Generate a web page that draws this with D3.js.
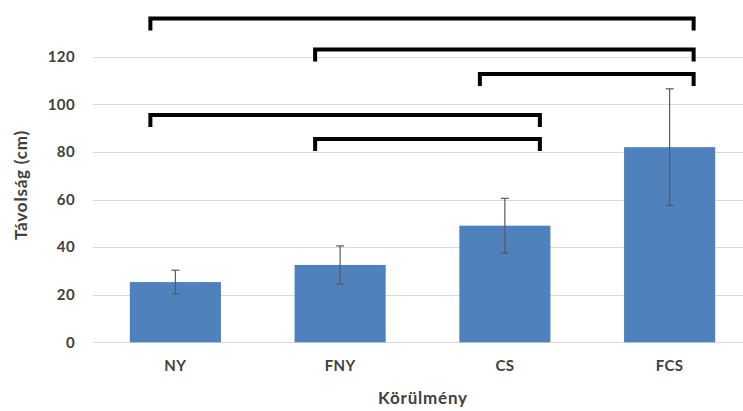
<!DOCTYPE html>
<html>
<head>
<meta charset="utf-8">
<script src="https://cdn.jsdelivr.net/npm/d3@7"></script>
<style>
  html, body { margin: 0; padding: 0; background: #fff; }
  svg { display: block; }
  text { font-family: Lato, "Open Sans", sans-serif; font-weight: bold; fill: #404040; }
</style>
</head>
<body>
<svg id="chart" width="743" height="411"></svg>
<script>
// ---- data ----
const categories = ["NY", "FNY", "CS", "FCS"];
const means = [25.3, 32.5, 49, 82];
const errors = [5, 8, 11.5, 24.5];
const yTicks = [0, 20, 40, 60, 80, 100, 120];
const bracketFrom = ["NY", "FNY", "CS", "NY", "FNY"];
const bracketTo = ["FCS", "FCS", "FCS", "CS", "CS"];
const bracketLevel = [136, 123, 112.7, 95.5, 85.4];
const xTitle = "Körülmény";
const yTitle = "Távolság (cm)";

// ---- layout ----
const svg = d3.select("#chart");
const gridLeft = 93, gridRight = 743;
const y = d3.scaleLinear().domain([0, 120]).range([342.3, 56.7]);
const x = d3.scaleBand().domain(categories).range([93, 752])
  .paddingInner(0.447).paddingOuter(0.2235);

// gridlines
svg.append("g").selectAll("line").data(yTicks).join("line")
  .attr("x1", gridLeft).attr("x2", gridRight)
  .attr("y1", d => Math.round(y(d)) + 0.5).attr("y2", d => Math.round(y(d)) + 0.5)
  .attr("stroke", "#d9d9d9").attr("stroke-width", 1);

// y tick labels
svg.append("g").selectAll("text").data(yTicks).join("text")
  .attr("x", 75).attr("y", d => y(d)).attr("dy", "0.35em")
  .attr("text-anchor", "end").attr("font-size", 15).attr("letter-spacing", 0.4).text(d => d);

// bars
const data = categories.map((c, i) => ({ c, v: means[i], e: errors[i] }));
svg.append("g").selectAll("rect").data(data).join("rect")
  .attr("x", d => x(d.c)).attr("width", x.bandwidth())
  .attr("y", d => y(d.v)).attr("height", d => y(0) - y(d.v))
  .attr("fill", "#4f81bd");

// error bars
const eb = svg.append("g").attr("stroke", "#595959").attr("stroke-width", 1.2);
data.forEach(d => {
  const cx = x(d.c) + x.bandwidth() / 2;
  eb.append("line").attr("x1", cx).attr("x2", cx).attr("y1", y(d.v + d.e)).attr("y2", y(d.v - d.e));
  eb.append("line").attr("x1", cx - 4).attr("x2", cx + 4).attr("y1", y(d.v + d.e)).attr("y2", y(d.v + d.e));
  eb.append("line").attr("x1", cx - 4).attr("x2", cx + 4).attr("y1", y(d.v - d.e)).attr("y2", y(d.v - d.e));
});

// x labels
svg.append("g").selectAll("text").data(categories).join("text")
  .attr("x", d => x(d) + x.bandwidth() / 2).attr("y", 371)
  .attr("text-anchor", "middle").attr("font-size", 15).attr("letter-spacing", 0.4).text(d => d);

// axis titles
svg.append("text").attr("x", 423).attr("y", 404).attr("text-anchor", "middle")
  .attr("font-size", 17).attr("letter-spacing", 0.8).text(xTitle);
svg.append("text").attr("transform", "translate(27,185) rotate(-90)")
  .attr("text-anchor", "middle").attr("font-size", 17).attr("letter-spacing", 0.8).text(yTitle);

// significance brackets
const center = c => x(c) + x.bandwidth() / 2;
const rightOffset = { CS: 35, FCS: 24 };
const drop = 12;
const bg = svg.append("g").attr("fill", "none").attr("stroke", "#000")
  .attr("stroke-width", 4).attr("stroke-linejoin", "miter");
bracketFrom.forEach((f, i) => {
  const x1 = center(f) - 25;
  const x2 = center(bracketTo[i]) + rightOffset[bracketTo[i]];
  const yy = y(bracketLevel[i]);
  bg.append("path").attr("d", `M${x1},${yy + drop}V${yy}H${x2}V${yy + drop}`);
});
</script>
</body>
</html>
